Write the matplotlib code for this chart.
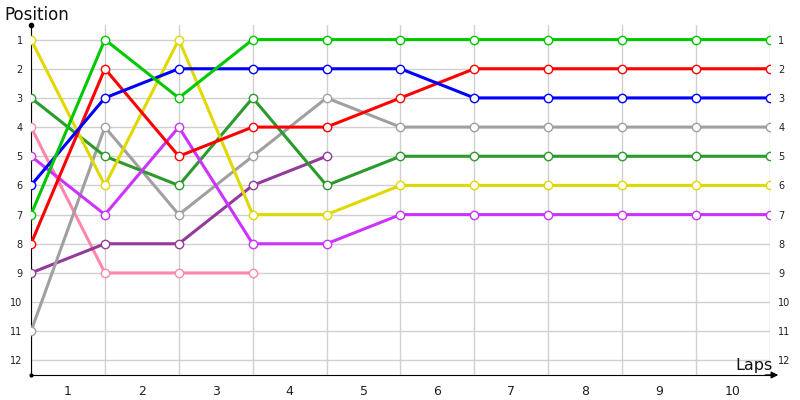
import matplotlib
matplotlib.use("Agg")
import matplotlib.pyplot as plt

laps = list(range(1, 11))
positions = list(range(1, 13))

# position of each driver at each lap boundary (start, after lap 1, ...)
bright_green = [7, 1, 3, 1, 1, 1, 1, 1, 1, 1, 1]
red = [8, 2, 5, 4, 4, 3, 2, 2, 2, 2, 2]
blue = [6, 3, 2, 2, 2, 2, 3, 3, 3, 3, 3]
gray = [11, 4, 7, 5, 3, 4, 4, 4, 4, 4, 4]
dark_green = [3, 5, 6, 3, 6, 5, 5, 5, 5, 5, 5]
yellow = [1, 6, 1, 7, 7, 6, 6, 6, 6, 6, 6]
magenta = [5, 7, 4, 8, 8, 7, 7, 7, 7, 7, 7]
purple = [9, 8, 8, 6, 5]
pink = [4, 9, 9, 9]

series = [
    (pink, '#ff88aa'),
    (purple, '#933a9a'),
    (gray, '#a0a0a0'),
    (dark_green, '#2a9a2a'),
    (magenta, '#cc33ff'),
    (yellow, '#e0d800'),
    (red, '#ff0000'),
    (blue, '#0000ff'),
    (bright_green, '#00c800'),
]

fig = plt.figure(figsize=(8, 4), dpi=100)
ax = fig.add_axes([0.03875, 0.0625, 0.92375, 0.875])

for vals, col in series:
    ax.plot(range(len(vals)), vals, '-', color=col, lw=2.2,
            marker='o', ms=6, mfc='white', mec=col, mew=1.0, zorder=3)

ax.set_xlim(0, 10)
ax.set_ylim(12.5, 0.5)

ax.set_xticks(range(0, 11))
ax.set_xticklabels([])
ax.set_xticks([l - 0.5 for l in laps], minor=True)
ax.set_xticklabels([str(l) for l in laps], minor=True, fontsize=9, color='#202020')
ax.tick_params(axis='x', which='both', length=0, pad=7)

ax.set_yticks(positions)
ax.set_yticklabels([str(p) for p in positions], fontsize=7, color='#202020')
ax.tick_params(axis='y', length=0, pad=6, labelright=True, left=True, right=False)

ax.grid(True, which='major', color='#d0d0d0', lw=1)
ax.set_axisbelow(True)

for s in ['top', 'right']:
    ax.spines[s].set_visible(False)
ax.spines['left'].set_color('black')
ax.spines['bottom'].set_color('black')

# arrow at end of x axis, dot at top of y axis
ax.annotate('', xy=(1.015, 0), xytext=(0.99, 0), xycoords='axes fraction',
            arrowprops=dict(arrowstyle='-|>', color='black', lw=1, mutation_scale=10),
            annotation_clip=False)
ax.plot([0], [1], 'o', color='black', ms=3, transform=ax.transAxes, clip_on=False)
ax.plot([0], [0], 'o', color='black', ms=2, transform=ax.transAxes, clip_on=False)

fig.text(0.006, 0.962, 'Position', fontsize=12, color='#101010', va='center', ha='left')
fig.text(0.966, 0.087, 'Laps', fontsize=11.5, color='#101010', va='center', ha='right')

fig.savefig('out.png', dpi=100)
